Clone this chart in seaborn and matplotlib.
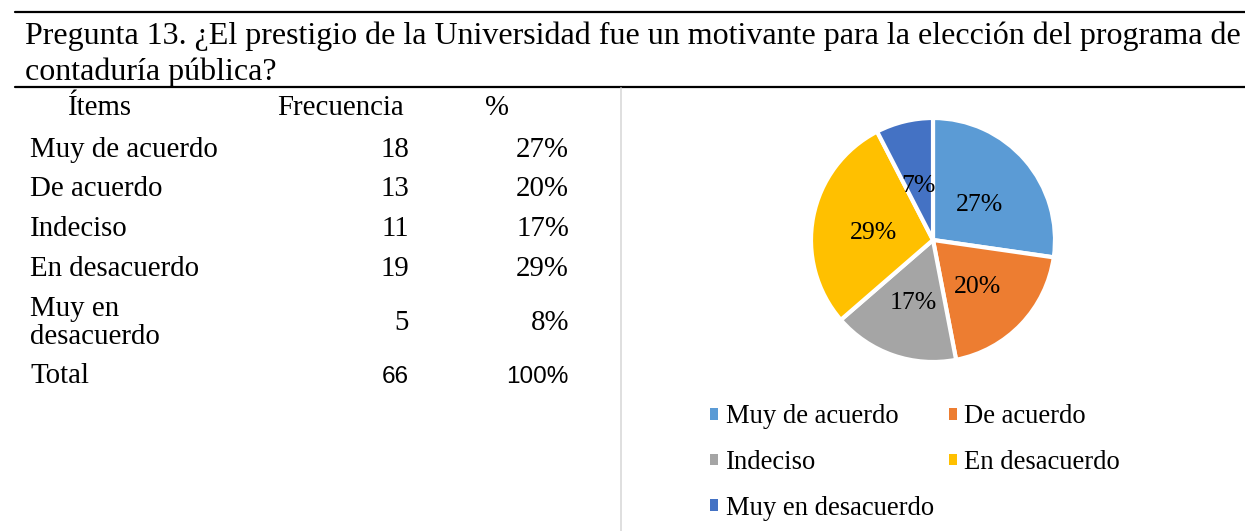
import numpy as np
import matplotlib
matplotlib.use("Agg")
import matplotlib.pyplot as plt
import seaborn as sns
from matplotlib.lines import Line2D
from matplotlib.patches import Patch

title = ("Pregunta 13. ¿El prestigio de la Universidad fue un motivante para la elección del programa de\n"
         "contaduría pública?")
items = ["Muy de acuerdo", "De acuerdo", "Indeciso", "En desacuerdo", "Muy en\ndesacuerdo"]
legend_items = ["Muy de acuerdo", "De acuerdo", "Indeciso", "En desacuerdo", "Muy en desacuerdo"]
frecuencia = [18, 13, 11, 19, 5]
porcentaje = ["27%", "20%", "17%", "29%", "8%"]
pie_labels = ["27%", "20%", "17%", "29%", "7%"]
total_n = "66"
total_pct = "100%"

sns.set_theme(style="white")
plt.rcParams["font.family"] = ["Liberation Serif", "DejaVu Serif"]
plt.rcParams["text.color"] = "black"
colors = sns.color_palette(["#5B9BD5", "#ED7D31", "#A5A5A5", "#FFC000", "#4472C4"])

W, H = 1245, 531
fig = plt.figure(figsize=(W / 100, H / 100), dpi=100)

def fx(px):
    return px / W

def fy(py):
    return 1 - py / H

# rules
fig.add_artist(Line2D([fx(15), 1], [fy(12), fy(12)], color="black", lw=1.6))
fig.add_artist(Line2D([fx(15), 1], [fy(87), fy(87)], color="black", lw=1.6))
fig.add_artist(Line2D([fx(621), fx(621)], [fy(88), 0], color="#d9d9d9", lw=1.2))

fig.text(fx(25), fy(54), title, fontsize=23, va="center", ha="left", linespacing=1.3)

# table
fs = 20.8
fig.text(fx(100), fy(108), "Ítems", fontsize=fs, ha="center", va="center")
fig.text(fx(340), fy(108), "Frecuencia", fontsize=fs, ha="center", va="center")
fig.text(fx(497), fy(108), "%", fontsize=fs, ha="center", va="center")
row_y = [150, 189, 229, 269, 323]
for y, it, n, p in zip(row_y, items, frecuencia, porcentaje):
    fig.text(fx(30), fy(y), it, fontsize=fs, ha="left", va="center", linespacing=1.15)
    fig.text(fx(409), fy(y), str(n), fontsize=fs, ha="right", va="center")
    fig.text(fx(569), fy(y), p, fontsize=fs, ha="right", va="center")
fig.text(fx(30), fy(376), "Total", fontsize=fs, ha="left", va="center")
fig.text(fx(409), fy(377), total_n, fontsize=17.5, ha="right", va="center", family="Liberation Sans")
fig.text(fx(569), fy(377), total_pct, fontsize=17.5, ha="right", va="center", family="Liberation Sans")

# pie
cx, cy, r = 933, 240, 122
ax = fig.add_axes([fx(cx - r), fy(cy + r), 2 * r / W, 2 * r / H])
lab_iter = iter(pie_labels)
wedges, texts, autotexts = ax.pie(
    frecuencia, colors=colors, startangle=90, counterclock=False,
    autopct=lambda v: next(lab_iter), pctdistance=0.5,
    wedgeprops=dict(edgecolor="white", linewidth=3),
    textprops=dict(fontsize=18.5, color="black"))
for t in autotexts:
    x0, y0 = t.get_position()
    t.set_position((x0, y0 - 0.04))
ax.set_xlim(-1.0, 1.0)
ax.set_ylim(-1.0, 1.0)
ax.set_aspect("auto")
ax.axis("off")

handles = [Patch(facecolor=c, edgecolor="none") for c in colors]
order = [0, 2, 4, 1, 3]
fig.legend([handles[i] for i in order], [legend_items[i] for i in order],
           ncol=2, loc="upper left", bbox_to_anchor=(fx(697), fy(391)),
           frameon=False, fontsize=19.2, handlelength=0.3, handleheight=0.3,
           handletextpad=0.28, columnspacing=0.55, labelspacing=0.78, borderpad=0)

fig.savefig("out.png", dpi=100, facecolor="white")
